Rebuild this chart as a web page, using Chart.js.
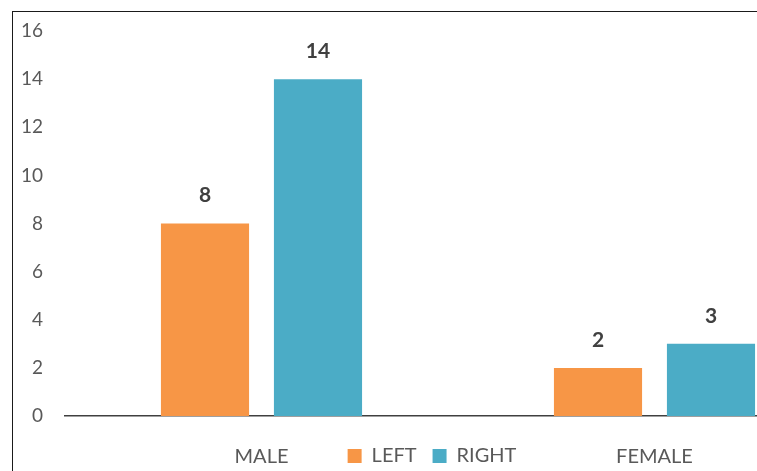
<!DOCTYPE html>
<html>
<head>
<meta charset="utf-8">
<script src="https://cdn.jsdelivr.net/npm/chart.js@4"></script>
<style>
    html, body { margin: 0; padding: 0; background: #fff; overflow: hidden; }
    #frame {
        position: absolute;
        left: 12px;
        top: 11px;
        width: 850px;
        height: 470px;
        border: 1.5px solid #1a1a1a;
        background: #fff;
    }
    #wrap { position: absolute; left: 0; top: 0; width: 850px; height: 470px; }
</style>
</head>
<body>
<div id="frame"><div id="wrap"><canvas id="genderChart"></canvas></div></div>
<script>
// Chart data
const categories = ['MALE', 'FEMALE'];
const seriesNames = ['LEFT', 'RIGHT'];
const leftValues = [8, 2];
const rightValues = [14, 3];
const yMax = 16;
const yStep = 2;

const FONT = "Lato, 'Open Sans', sans-serif";

// values above the bars + category names on the legend row
const barText = {
    id: 'barText',
    afterDatasetsDraw(chart) {
        const ctx = chart.ctx;
        ctx.save();
        ctx.textAlign = 'center';
        ctx.textBaseline = 'middle';

        ctx.font = 'bold 21px ' + FONT;
        ctx.fillStyle = '#404040';
        chart.data.datasets.forEach((ds, i) => {
            chart.getDatasetMeta(i).data.forEach((bar, j) => {
                ctx.fillText(ds.data[j], bar.x, bar.y - 28);
            });
        });

        const xScale = chart.scales.x;
        ctx.font = '20px ' + FONT;
        ctx.fillStyle = '#595959';
        chart.data.labels.forEach((lbl, i) => {
            ctx.fillText(lbl, xScale.getPixelForTick(i), chart.chartArea.bottom + 41);
        });
        ctx.restore();
    }
};

new Chart(document.getElementById('genderChart'), {
    type: 'bar',
    data: {
        labels: categories,
        datasets: [
            {
                label: seriesNames[0],
                data: leftValues,
                backgroundColor: '#F79646',
                categoryPercentage: 0.575,
                barPercentage: 0.78
            },
            {
                label: seriesNames[1],
                data: rightValues,
                backgroundColor: '#4BACC6',
                categoryPercentage: 0.575,
                barPercentage: 0.78
            }
        ]
    },
    options: {
        responsive: true,
        maintainAspectRatio: false,
        animation: false,
        layout: {
            padding: { top: 19, right: 12, bottom: 6, left: 0 }
        },
        plugins: {
            legend: {
                position: 'bottom',
                labels: {
                    boxWidth: 14,
                    boxHeight: 14,
                    padding: 16,
                    color: '#595959',
                    font: { family: FONT, size: 20 }
                }
            },
            tooltip: { enabled: false }
        },
        scales: {
            x: {
                grid: { display: false, drawTicks: false },
                border: { display: true, color: '#404040', width: 1.5 },
                ticks: { display: false },
                afterFit(scale) { scale.height = 14; }
            },
            y: {
                min: 0,
                max: yMax,
                grid: { display: false, drawTicks: false },
                border: { display: false },
                ticks: {
                    stepSize: yStep,
                    padding: 22,
                    color: '#595959',
                    font: { family: FONT, size: 19 }
                },
                afterFit(scale) {
                    scale.width = 52;
                    scale.paddingTop = 0;
                    scale.paddingBottom = 0;
                }
            }
        }
    },
    plugins: [barText]
});
</script>
</body>
</html>
